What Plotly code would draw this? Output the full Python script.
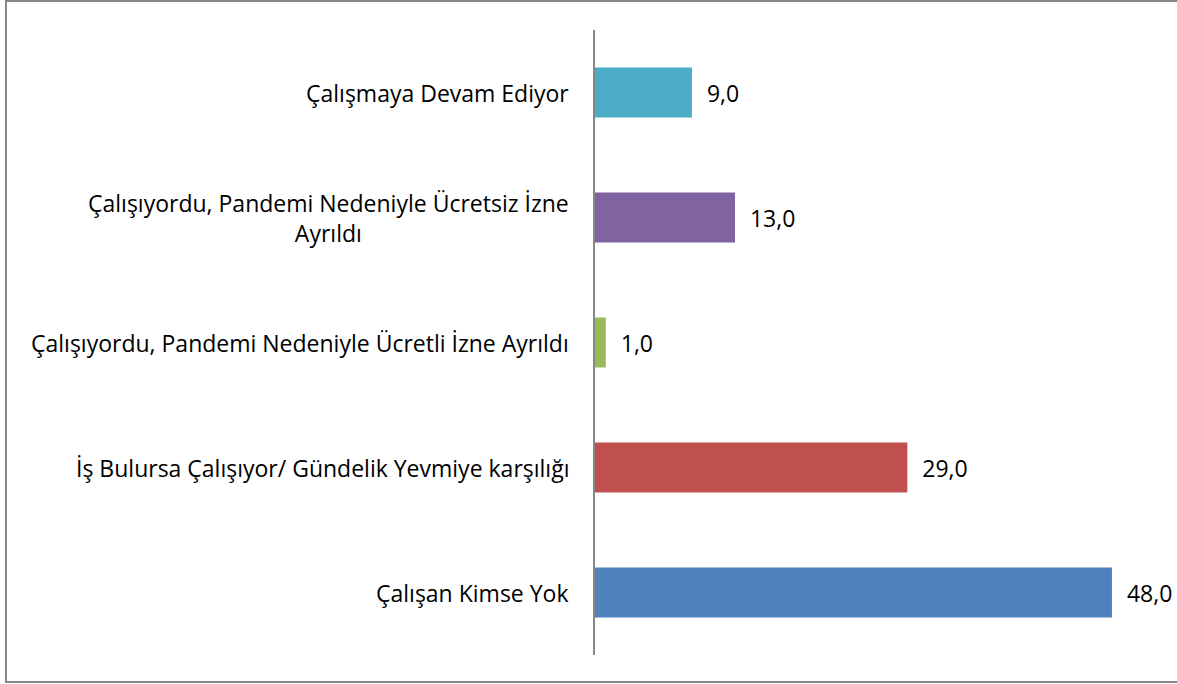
import plotly.graph_objects as go

# categories from bottom to top
categories = [
    "Çalışan Kimse Yok",
    "İş Bulursa Çalışıyor/ Gündelik Yevmiye karşılığı",
    "Çalışıyordu, Pandemi Nedeniyle Ücretli İzne Ayrıldı",
    "Çalışıyordu, Pandemi Nedeniyle Ücretsiz İzne<br>Ayrıldı",
    "Çalışmaya Devam Ediyor",
]
values = [48.0, 29.0, 1.0, 13.0, 9.0]
bar_colors = ["#4F81BD", "#C0504D", "#9BBB59", "#8064A2", "#4BACC6"]

W, H = 1177, 684
ml, mr, mt, mb = 595, 12, 30, 29
pw, ph = W - ml - mr, H - mt - mb

font_family = "'Open Sans', sans-serif"
fsize = 23

fig = go.Figure(go.Bar(
    y=categories,
    x=values,
    orientation="h",
    marker_color=bar_colors,
    marker_line_width=0,
    text=["  " + f"{v:.1f}".replace(".", ",") for v in values],
    textposition="outside",
    textfont=dict(size=fsize, color="#000000", family=font_family),
    cliponaxis=False,
))

# category labels as centered annotations (multi-line label is centered in the original)
annotations = []
for c in categories:
    annotations.append(dict(
        x=0, y=c, xref="x", yref="y",
        text=c, showarrow=False,
        xanchor="right", xshift=-24, align="center",
        font=dict(size=fsize, color="#000000", family=font_family),
    ))

# outer border of the chart area (right edge falls outside the picture)
x0 = (6 - ml) / pw
x1 = (W + 10 - ml) / pw
y0 = (H - mb - 682) / ph
y1 = (H - mb - 1) / ph

fig.update_layout(
    width=W, height=H,
    margin=dict(l=ml, r=mr, t=mt, b=mb),
    plot_bgcolor="white", paper_bgcolor="white",
    showlegend=False,
    bargap=0.6,
    annotations=annotations,
    shapes=[dict(type="rect", xref="paper", yref="paper",
                 x0=x0, x1=x1, y0=y0, y1=y1,
                 line=dict(color="#878787", width=2), layer="below")],
    xaxis=dict(range=[0, pw / 10.77], visible=False, fixedrange=True),
    yaxis=dict(showticklabels=False, showline=True, linecolor="#878787",
               linewidth=2, ticks="", showgrid=False, zeroline=False,
               range=[-0.5, 4.5]),
)

fig.write_html("out.html", config={"displayModeBar": False},
               post_script="document.body.style.margin='0';")
